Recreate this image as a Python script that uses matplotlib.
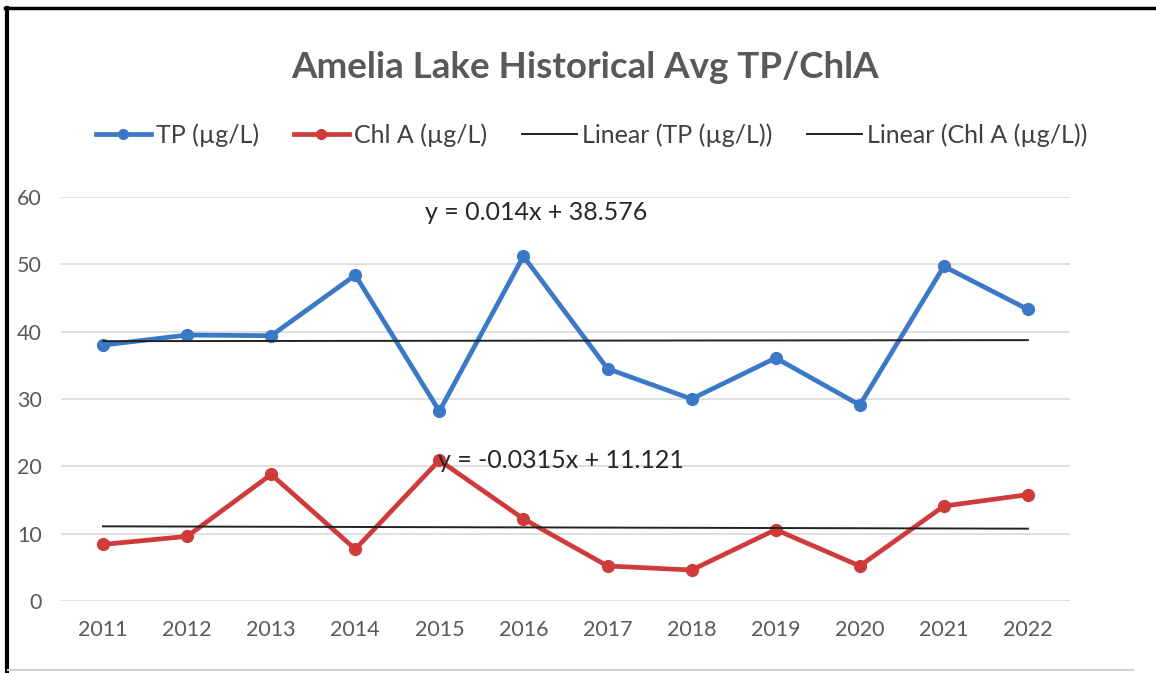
import numpy as np
import matplotlib
matplotlib.use("Agg")
import matplotlib.pyplot as plt
from matplotlib.lines import Line2D

plt.rcParams['font.family'] = ['Lato', 'DejaVu Sans']

years = ['2011', '2012', '2013', '2014', '2015', '2016',
         '2017', '2018', '2019', '2020', '2021', '2022']
tp = [38.0, 39.5, 39.4, 48.4, 28.2, 51.2, 34.5, 30.0, 36.1, 29.1, 49.7, 43.3]
chla = [8.4, 9.6, 18.8, 7.7, 20.9, 12.2, 5.2, 4.6, 10.6, 5.2, 14.1, 15.8]

# trendline coefficients as printed on the chart (x = 1..12)
tp_fit = (0.014, 38.576)
chla_fit = (-0.0315, 11.121)

blue = '#3b78c6'
red = '#cf3b3b'
grey_txt = '#595959'

fig = plt.figure(figsize=(11.56, 6.73), dpi=100)
ax = fig.add_axes([61 / 1156, 1 - 601 / 673, 1009 / 1156, 404 / 673])

x = np.arange(len(years))
xn = x + 1

ax.plot(x, tp, color=blue, lw=3.4, marker='o', ms=8.5, zorder=3)
ax.plot(x, chla, color=red, lw=3.4, marker='o', ms=8.5, zorder=3)
ax.plot(x, tp_fit[0] * xn + tp_fit[1], color='#222222', lw=1.4, zorder=4)
ax.plot(x, chla_fit[0] * xn + chla_fit[1], color='#222222', lw=1.4, zorder=4)

ax.text(3.83, 57.7, 'y = 0.014x + 38.576', fontsize=18, color='#262626',
        va='center', ha='left')
ax.text(3.98, 20.8, 'y = -0.0315x + 11.121', fontsize=18, color='#262626',
        va='center', ha='left')

ax.set_xlim(-0.5, 11.5)
ax.set_ylim(0, 60)
ax.set_yticks(range(0, 61, 10))
ax.set_xticks(x)
ax.set_xticklabels(years)
ax.grid(axis='y', color='#d9d9d9', lw=1.2)
ax.set_axisbelow(True)
for s in ax.spines.values():
    s.set_visible(False)
ax.tick_params(length=0, labelsize=15.5, labelcolor=grey_txt)
ax.tick_params(axis='y', pad=14)
ax.tick_params(axis='x', pad=14)

fig.text(0.506, 1 - 68 / 673, 'Amelia Lake Historical Avg TP/ChlA',
         ha='center', va='center', fontsize=26.5, fontweight='bold', color=grey_txt)

handles = [
    Line2D([], [], color=blue, lw=3.4, marker='o', ms=7),
    Line2D([], [], color=red, lw=3.4, marker='o', ms=7),
    Line2D([], [], color='#222222', lw=1.4),
    Line2D([], [], color='#222222', lw=1.4),
]
labels = ['TP (µg/L)', 'Chl A (µg/L)', 'Linear (TP (µg/L))', 'Linear (Chl A (µg/L))']
fig.legend(handles, labels, loc='center', bbox_to_anchor=(0.512, 1 - 135 / 673),
           ncol=4, frameon=False, fontsize=18, handlelength=2.2,
           handletextpad=0.2, columnspacing=1.4, labelcolor='#404040')

# frame around the chart
fig.add_artist(Line2D([6.5 / 1156, 6.5 / 1156], [1 - 8 / 673, 0], color='black',
                      lw=3, transform=fig.transFigure))
fig.add_artist(Line2D([5 / 1156, 1], [1 - 8 / 673, 1 - 8 / 673], color='black',
                      lw=2.5, transform=fig.transFigure))
fig.add_artist(Line2D([8 / 1156, 1133 / 1156], [1 - 670 / 673, 1 - 670 / 673],
                      color='#d0d0d0', lw=1.5, transform=fig.transFigure))

fig.savefig('out.png', dpi=100)
